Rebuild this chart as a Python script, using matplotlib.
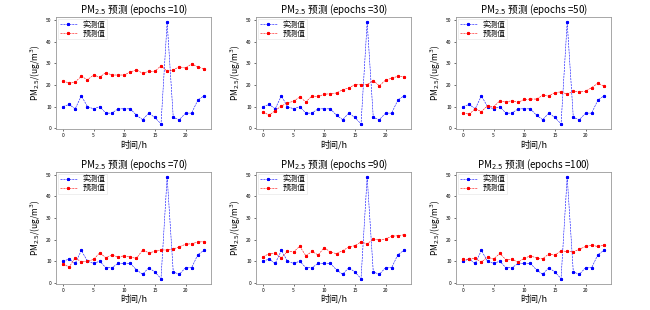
import matplotlib
matplotlib.use("Agg")
import matplotlib.pyplot as plt

plt.rcParams["font.family"] = ["Noto Sans CJK SC", "DejaVu Sans"]
plt.rcParams["axes.unicode_minus"] = False

hours = list(range(24))
actual = [10, 11, 9, 15, 10, 9, 10, 7, 7, 9, 9, 9, 6, 4, 7, 5, 2, 49, 5, 4, 7, 7, 13, 15]

epochs = [10, 30, 50, 70, 90, 100]
pred_10 = [21.7, 21.0, 21.4, 24.0, 22.4, 24.6, 23.6, 25.7, 24.6, 24.6, 24.6, 26.0,
           27.0, 25.4, 26.3, 26.3, 28.9, 26.3, 27.0, 28.4, 27.8, 29.7, 28.3, 27.5]
pred_30 = [7.7, 6.0, 8.2, 10.3, 11.7, 12.5, 14.4, 12.2, 14.9, 14.7, 15.7, 16.0,
           16.3, 17.8, 18.6, 20.2, 20.2, 20.2, 22.0, 19.6, 22.3, 23.1, 24.0, 23.9]
pred_50 = [7.2, 6.5, 9.0, 7.7, 10.4, 10.0, 12.6, 12.1, 12.8, 12.0, 13.3, 13.5,
           13.5, 15.2, 14.9, 16.5, 16.8, 15.8, 17.0, 16.8, 17.1, 18.8, 20.8, 19.5]
pred_70 = [8.8, 7.3, 11.5, 9.7, 10.0, 10.8, 13.9, 11.6, 12.8, 12.0, 12.5, 11.9,
           11.3, 15.2, 13.9, 14.5, 15.2, 15.2, 15.6, 16.7, 17.8, 18.1, 18.8, 19.1]
pred_90 = [12.0, 13.5, 13.7, 11.5, 14.6, 14.3, 16.9, 12.5, 14.5, 12.9, 16.3, 14.2,
           13.5, 14.9, 16.5, 17.2, 18.9, 18.0, 20.2, 19.8, 20.3, 21.5, 21.8, 22.2]
pred_100 = [10.8, 11.0, 11.3, 9.6, 11.9, 11.0, 13.6, 10.7, 10.8, 9.6, 11.3, 12.5,
            11.5, 11.1, 13.4, 12.8, 14.8, 14.5, 14.3, 15.6, 16.8, 17.4, 16.8, 17.4]
predictions = [pred_10, pred_30, pred_50, pred_70, pred_90, pred_100]

fig, axes = plt.subplots(2, 3, figsize=(6.5, 3.1), dpi=100)
fig.subplots_adjust(left=0.086, right=0.94, top=0.945, bottom=0.085,
                    wspace=0.29, hspace=0.38)

for ax, ep, pred in zip(axes.flat, epochs, predictions):
    ax.plot(hours, actual, "b*--", lw=0.4, ms=2, label="实测值")
    ax.plot(hours, pred, "r*--", lw=0.4, ms=2, label="预测值")
    ax.set_title(f"PM$_{{2.5}}$ 预测 (epochs ={ep})", fontsize=7, pad=2)
    ax.set_xlabel("时间/h", fontsize=6.5, labelpad=1)
    ax.set_ylabel("PM$_{2.5}$/(ug/m$^3$)", fontsize=6, labelpad=2)
    ax.set_xticks([0, 5, 10, 15, 20])
    ax.set_yticks([0, 10, 20, 30, 40, 50])
    ax.tick_params(labelsize=3.5, length=1.5, width=0.4, pad=1.5)
    for spine in ax.spines.values():
        spine.set_color("#999999")
        spine.set_linewidth(0.6)
    leg = ax.legend(loc="upper left", fontsize=5.5, frameon=True, fancybox=False,
                    handlelength=2.2, borderaxespad=0.3, labelspacing=0.1,
                    borderpad=0.2)
    leg.get_frame().set_edgecolor("#dddddd")
    leg.get_frame().set_linewidth(0.4)

fig.savefig("out.png", dpi=100)
